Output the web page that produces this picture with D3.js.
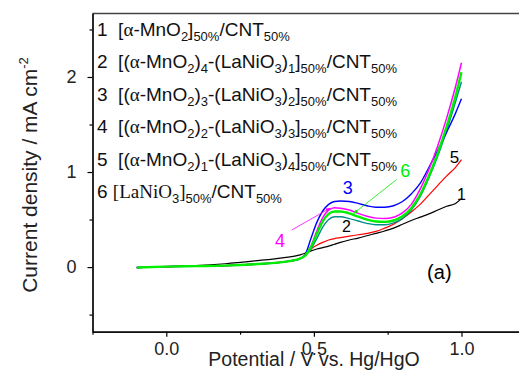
<!DOCTYPE html>
<html>
<head>
<meta charset="utf-8">
<script src="https://cdn.jsdelivr.net/npm/d3@7"></script>
<style>
  body { margin: 0; background: #fff; }
  svg { display: block; font-family: Arial, "Liberation Sans", sans-serif; }
</style>
</head>
<body>
<div id="chart"></div>
<script>
// potential grid, V vs. Hg/HgO
var potential = [-0.1, 0.0, 0.1, 0.2, 0.3, 0.4, 0.45, 0.47, 0.49, 0.51, 0.53, 0.55, 0.57, 0.59,
                 0.62, 0.65, 0.68, 0.71, 0.74, 0.77, 0.80, 0.83, 0.86, 0.89, 0.92, 0.95, 0.98, 1.0];

// current density, mA cm-2
var cur1 = [-0.005, 0.005, 0.015, 0.035, 0.065, 0.10, 0.125, 0.145, 0.17, 0.19, 0.205, 0.22, 0.24, 0.26,
            0.285, 0.305, 0.33, 0.355, 0.38, 0.41, 0.45, 0.49, 0.525, 0.56, 0.60, 0.64, 0.67, 0.72];
var cur2 = [-0.005, 0.005, 0.01, 0.015, 0.03, 0.055, 0.085, 0.12, 0.19, 0.30, 0.42, 0.50, 0.53, 0.53,
            0.51, 0.485, 0.46, 0.445, 0.445, 0.465, 0.51, 0.60, 0.74, 0.94, 1.17, 1.44, 1.74, 1.95];
var cur3 = [-0.005, 0.005, 0.01, 0.015, 0.03, 0.055, 0.085, 0.13, 0.30, 0.47, 0.59, 0.66, 0.69, 0.695,
            0.69, 0.67, 0.645, 0.63, 0.63, 0.645, 0.69, 0.77, 0.88, 1.05, 1.23, 1.42, 1.62, 1.77];
var cur4 = [-0.005, 0.005, 0.01, 0.015, 0.03, 0.055, 0.085, 0.12, 0.22, 0.38, 0.52, 0.60, 0.625, 0.62,
            0.60, 0.565, 0.535, 0.515, 0.51, 0.525, 0.57, 0.66, 0.82, 1.03, 1.28, 1.57, 1.90, 2.15];
var cur5 = [-0.005, 0.005, 0.01, 0.015, 0.03, 0.055, 0.085, 0.12, 0.19, 0.23, 0.26, 0.285, 0.30, 0.31,
            0.325, 0.34, 0.355, 0.375, 0.41, 0.45, 0.51, 0.58, 0.66, 0.76, 0.86, 0.96, 1.05, 1.13];
var cur6 = [-0.005, 0.005, 0.01, 0.015, 0.03, 0.055, 0.085, 0.12, 0.21, 0.35, 0.48, 0.56, 0.585, 0.585,
            0.565, 0.53, 0.50, 0.48, 0.475, 0.49, 0.535, 0.62, 0.76, 0.96, 1.20, 1.48, 1.80, 2.05];

var xTicks = [0.0, 0.5, 1.0];
var xMinor = [-0.25, 0.25, 0.75];
var yTicks = [0, 1, 2];
var yMinor = [-0.5, 0.5, 1.5, 2.5];

// draw order: green on top
var series = [
    { values: cur1, color: "#000000", w: 1.2 },
    { values: cur5, color: "#ff0000", w: 1.2 },
    { values: cur2, color: "#008b8b", w: 1.4 },
    { values: cur3, color: "#0000ff", w: 1.4 },
    { values: cur4, color: "#ff00ff", w: 1.5 },
    { values: cur6, color: "#00ee00", w: 2.4 }
];

// legend rows: [text, kind]  n = normal, s = subscript, g = greek/serif
var legendRows = [
    [["1\u00a0\u00a0[", "n"], ["\u03b1", "g"], ["-MnO", "n"], ["2", "s"], ["]", "n"], ["50%", "s"], ["/CNT", "n"], ["50%", "s"]],
    [["2\u00a0\u00a0[(", "n"], ["\u03b1", "g"], ["-MnO", "n"], ["2", "s"], [")", "n"], ["4", "s"], ["-(LaNiO", "n"], ["3", "s"], [")", "n"], ["1", "s"], ["]", "n"], ["50%", "s"], ["/CNT", "n"], ["50%", "s"]],
    [["3\u00a0\u00a0[(", "n"], ["\u03b1", "g"], ["-MnO", "n"], ["2", "s"], [")", "n"], ["3", "s"], ["-(LaNiO", "n"], ["3", "s"], [")", "n"], ["2", "s"], ["]", "n"], ["50%", "s"], ["/CNT", "n"], ["50%", "s"]],
    [["4\u00a0\u00a0[(", "n"], ["\u03b1", "g"], ["-MnO", "n"], ["2", "s"], [")", "n"], ["2", "s"], ["-(LaNiO", "n"], ["3", "s"], [")", "n"], ["3", "s"], ["]", "n"], ["50%", "s"], ["/CNT", "n"], ["50%", "s"]],
    [["5\u00a0\u00a0[(", "n"], ["\u03b1", "g"], ["-MnO", "n"], ["2", "s"], [")", "n"], ["1", "s"], ["-(LaNiO", "n"], ["3", "s"], [")", "n"], ["4", "s"], ["]", "n"], ["50%", "s"], ["/CNT", "n"], ["50%", "s"]],
    [["6 ", "n"], ["[LaNiO", "g"], ["3", "s"], ["]", "g"], ["50%", "s"], ["/CNT", "n"], ["50%", "s"]]
];

// curve labels in data coordinates
var labels = [
    { t: "1", x: 0.985, y: 0.71, c: "#000", size: 16, anchor: "start" },
    { t: "5", x: 0.96, y: 1.10, c: "#000", size: 17, anchor: "start" },
    { t: "3", x: 0.615, y: 0.77, c: "#0000ff", size: 18, anchor: "middle" },
    { t: "2", x: 0.61, y: 0.37, c: "#000", size: 16, anchor: "middle" },
    { t: "4", x: 0.385, y: 0.21, c: "#ff00ff", size: 18, anchor: "middle" },
    { t: "6", x: 0.81, y: 0.95, c: "#00ee00", size: 18, anchor: "middle" },
    { t: "(a)", x: 0.925, y: -0.125, c: "#000", size: 20, anchor: "middle" }
];
var arrows = [
    { x1: 0.425, y1: 0.39, x2: 0.555, y2: 0.62, c: "#ff00ff" },
    { x1: 0.78, y1: 0.92, x2: 0.635, y2: 0.565, c: "#00ee00" }
];

var W = 519, H = 376;
var svg = d3.select("#chart").append("svg")
    .attr("width", W)
    .attr("height", H);

var x = d3.scaleLinear().domain([-0.25, 1.2]).range([92.5, 520.5]);
var y = d3.scaleLinear().domain([-0.68, 2.67]).range([331.7, 13.3]);

// frame top line
svg.append("line")
    .attr("x1", 92.5).attr("x2", W)
    .attr("y1", 13.5).attr("y2", 13.5)
    .attr("stroke", "#444").attr("stroke-width", 1.5);

// axes
function styleAxis(g) {
    g.select(".domain").attr("stroke", "#000").attr("stroke-width", 1.2);
    g.selectAll(".tick line").attr("stroke", "#000").attr("stroke-width", 1.2);
    g.selectAll(".tick text").attr("font-size", 18).attr("fill", "#222")
        .attr("font-family", "Arial, 'Liberation Sans', sans-serif");
}

svg.append("g")
    .attr("transform", "translate(0," + y.range()[0] + ")")
    .call(d3.axisBottom(x).tickValues(xTicks).tickSize(5).tickSizeOuter(0).tickPadding(6)
        .tickFormat(d3.format(".1f")))
    .call(styleAxis);
svg.append("g")
    .attr("transform", "translate(0," + y.range()[0] + ")")
    .call(d3.axisBottom(x).tickValues(xMinor).tickSize(3).tickSizeOuter(0).tickFormat(""))
    .call(styleAxis);

svg.append("g")
    .attr("transform", "translate(" + x.range()[0] + ",0)")
    .call(d3.axisLeft(y).tickValues(yTicks).tickSize(5).tickSizeOuter(0).tickPadding(11)
        .tickFormat(d3.format("d")))
    .call(styleAxis);
svg.append("g")
    .attr("transform", "translate(" + x.range()[0] + ",0)")
    .call(d3.axisLeft(y).tickValues(yMinor).tickSize(3).tickSizeOuter(0).tickFormat(""))
    .call(styleAxis);

// axis titles
svg.append("text")
    .attr("x", 314).attr("y", 366)
    .attr("text-anchor", "middle")
    .attr("font-size", 19.5).attr("fill", "#222")
    .text("Potential / V vs. Hg/HgO");

var yt = svg.append("text")
    .attr("transform", "translate(37,175) rotate(-90)")
    .attr("text-anchor", "middle")
    .attr("font-size", 21).attr("fill", "#222");
yt.append("tspan").text("Current density / mA cm");
yt.append("tspan").attr("font-size", 13).attr("dy", -9).text("-2");

// curves
var line = d3.line()
    .x(function (d, i) { return x(potential[i]); })
    .y(function (d) { return y(d); })
    .curve(d3.curveMonotoneX);

svg.selectAll(".curve")
    .data(series)
    .join("path")
    .attr("class", "curve")
    .attr("d", function (d) { return line(d.values); })
    .attr("fill", "none")
    .attr("stroke", function (d) { return d.color; })
    .attr("stroke-width", function (d) { return d.w; })
    .attr("stroke-linejoin", "round");

// legend
legendRows.forEach(function (row, r) {
    var t = svg.append("text")
        .attr("x", 97)
        .attr("y", 36 + r * 32.4)
        .attr("font-size", 19)
        .attr("fill", "#111");
    var shift = 0;
    row.forEach(function (seg) {
        var sp = t.append("tspan").text(seg[0]);
        if (seg[1] === "s") {
            sp.attr("font-size", 13).attr("dy", 5 - shift);
            shift = 5;
        } else {
            sp.attr("dy", -shift);
            shift = 0;
            if (seg[1] === "g") sp.attr("font-family", "'Liberation Serif', 'Times New Roman', serif");
        }
    });
});

// arrows
var defs = svg.append("defs");
arrows.forEach(function (a, i) {
    defs.append("marker")
        .attr("id", "ah" + i)
        .attr("viewBox", "0 0 10 10")
        .attr("refX", 9).attr("refY", 5)
        .attr("markerWidth", 6).attr("markerHeight", 6)
        .attr("orient", "auto")
        .append("path")
        .attr("d", "M0,1L10,5L0,9Z")
        .attr("fill", a.c);
    svg.append("line")
        .attr("x1", x(a.x1)).attr("y1", y(a.y1))
        .attr("x2", x(a.x2)).attr("y2", y(a.y2))
        .attr("stroke", a.c).attr("stroke-width", 0.8)
        .attr("marker-end", "url(#ah" + i + ")");
});

// curve labels
svg.selectAll(".lab")
    .data(labels)
    .join("text")
    .attr("class", "lab")
    .attr("x", function (d) { return x(d.x); })
    .attr("y", function (d) { return y(d.y); })
    .attr("text-anchor", function (d) { return d.anchor; })
    .attr("font-size", function (d) { return d.size; })
    .attr("fill", function (d) { return d.c; })
    .text(function (d) { return d.t; });
</script>
</body>
</html>
